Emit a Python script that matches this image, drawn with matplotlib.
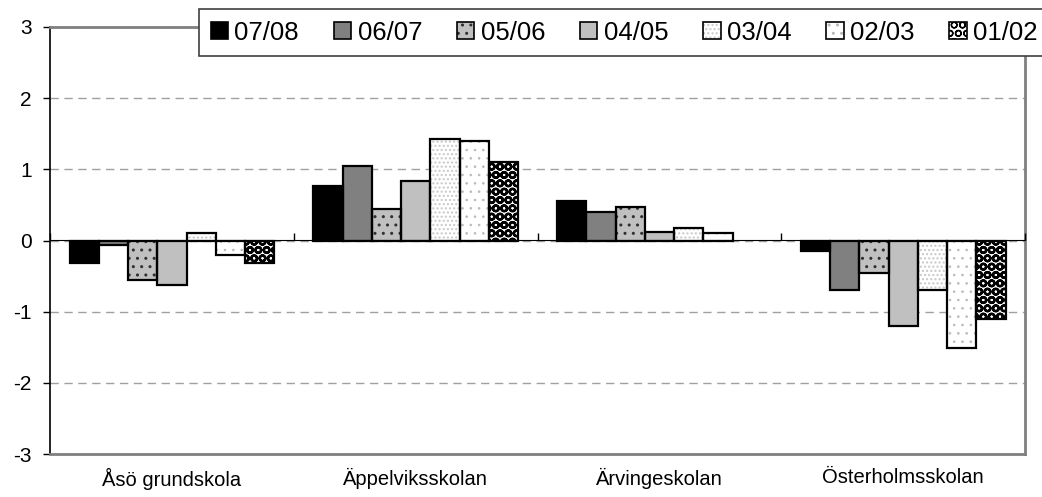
import numpy as np
import matplotlib.pyplot as plt
from matplotlib.patches import Patch

plt.rcParams['font.family'] = ['Liberation Sans', 'DejaVu Sans']
plt.rcParams['hatch.linewidth'] = 1.0

# --- datos ---
schools = ["Åsö grundskola", "Äppelviksskolan", "Ärvingeskolan", "Österholmsskolan"]
years = ["07/08", "06/07", "05/06", "04/05", "03/04", "02/03", "01/02"]
v_0708 = [-0.32, 0.77, 0.56, -0.15]
v_0607 = [-0.07, 1.04, 0.40, -0.69]
v_0506 = [-0.55, 0.44, 0.47, -0.46]
v_0405 = [-0.63, 0.83, 0.12, -1.20]
v_0304 = [0.10, 1.42, 0.18, -0.69]
v_0203 = [-0.20, 1.40, 0.10, -1.51]
v_0102 = [-0.32, 1.10, np.nan, -1.11]
series = [v_0708, v_0607, v_0506, v_0405, v_0304, v_0203, v_0102]
yticks = [-3, -2, -1, 0, 1, 2, 3]

# estilo: (relleno, color de trama, trama, grosor de trama)
styles = [
    ("#000000", "#000000", None, 1.0),
    ("#808080", "#808080", None, 1.0),
    ("#c0c0c0", "#303030", "..", 1.0),
    ("#c0c0c0", "#c0c0c0", None, 1.0),
    ("#ffffff", "#c8c8c8", "....", 1.0),
    ("#ffffff", "#b8b8b8", "..", 0.6),
    ("#ffffff", "#000000", "OO", 1.7),
]

fig = plt.figure(figsize=(10.42, 4.97), dpi=100)
ax = fig.add_axes([50/1042, 1-454/497, 975/1042, 427/497])

x = np.arange(len(schools))
w = 0.12
handles = []
for i, (vals, (fc, hc, hatch, hlw)) in enumerate(zip(series, styles)):
    pos = x + (i - 3) * w
    with plt.rc_context({'hatch.linewidth': hlw}):
        ax.bar(pos, vals, w, color=fc, edgecolor=hc, hatch=hatch, linewidth=0, zorder=3)
        hp = Patch(facecolor=fc, edgecolor=hc, hatch=hatch, linewidth=0)
    ax.bar(pos, vals, w, fill=False, edgecolor="black", linewidth=1.6, zorder=4)
    handles.append((hp, Patch(fill=False, edgecolor="black", linewidth=1.2)))

ax.set_xlim(-0.5, len(schools) - 0.5)
ax.set_ylim(-3, 3)
ax.set_yticks(yticks)
ax.set_yticklabels([str(t) for t in yticks])
ax.set_xticks(x)
ax.set_xticklabels(schools)
ax.tick_params(axis="x", length=0, pad=10, labelsize=14.5)
ax.tick_params(axis="y", length=5, width=1, direction="out", labelsize=15, pad=8)
ax.yaxis.grid(True, color="#a0a0a0", linestyle=(0, (6, 4)), linewidth=1)
ax.set_axisbelow(True)

for s in ["top", "right", "bottom"]:
    ax.spines[s].set_color("#808080")
    ax.spines[s].set_linewidth(2)
ax.spines["left"].set_color("black")
ax.spines["left"].set_linewidth(1.2)

# eje en cero con marcas entre categorías
sec = ax.secondary_xaxis(0.5)
sec.set_xticks(np.arange(len(schools) + 1) - 0.5)
sec.set_xticklabels([])
sec.tick_params(length=5, width=1, direction="out", color="black")
sec.spines["bottom"].set_color("black")
sec.spines["bottom"].set_linewidth(1.2)
sec.set_zorder(5)

leg = fig.legend(handles, years, ncol=7, loc="upper left",
                 bbox_to_anchor=(199/1042, 1-9/497), borderaxespad=0,
                 fontsize=18.5, handlelength=0.68, handleheight=0.68, handletextpad=0.25,
                 columnspacing=1.35, borderpad=0.45, fancybox=False, framealpha=1,
                 edgecolor="#404040")
leg.get_frame().set_linewidth(1.2)

fig.savefig("out.png", dpi=100)
